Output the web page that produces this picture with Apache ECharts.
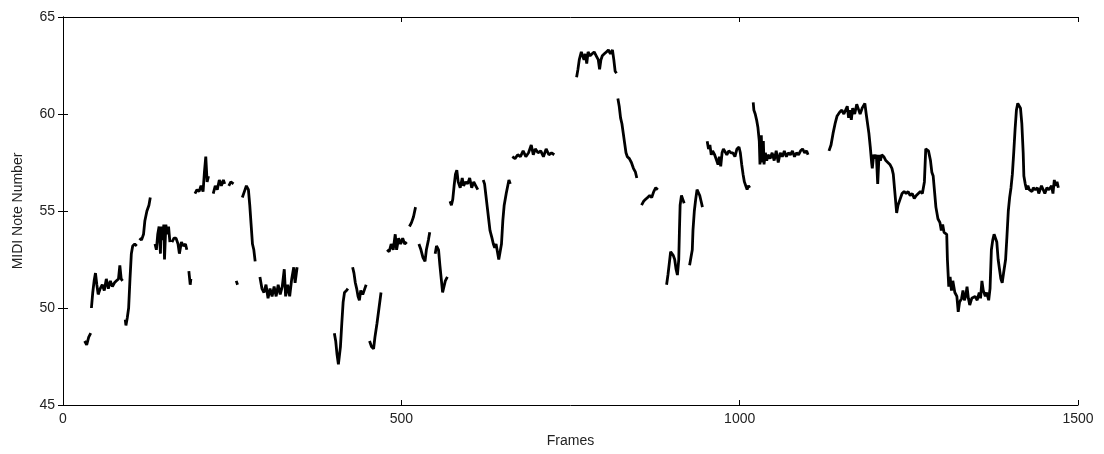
<!DOCTYPE html>
<html>
<head>
<meta charset="utf-8">
<script src="https://cdn.jsdelivr.net/npm/echarts@6/dist/echarts.min.js"></script>
<style>
html,body{margin:0;padding:0;background:#fff;}
#chart{width:1104px;height:454px;}
</style>
</head>
<body>
<div id="chart"></div>
<script>
// Axis ticks
const xTicks = [0, 500, 1000, 1500];
const yTicks = [45, 50, 55, 60, 65];
const xLabel = 'Frames';
const yLabel = 'MIDI Note Number';

// Pitch contour: frames and MIDI notes; null marks an unvoiced gap
const frames = [
  32,35,38,41, 0,
  42,44,46,48,50,52,55,58,61,64,67,70,73,76,79,82,84,86,88, 0,
  92,93,95,97,99,101,103,106,109, 0,
  113,116,119,121,124,127,129, 0,
  136,138,140,142,144,145,147,149,150,152,154,156,158, 0,
  161,164,167,170,172,175,178,181,183, 0,
  186,188,189, 0,
  195,198,201,204,207,209,211,213,215, 0,
  222,225,228,231,234,237,239, 0,
  245,248,252, 0,
  256,258, 0,
  265,268,271,274,276,278,280,282,284, 0,
  291,294,297,300,303,306,309,312,315,318,321,324,327,329,332,335,338,341,343,346, 0,
  401,403,405,407,409,410,412,414,416,419,421, 0,
  428,430,432,434,436,438,440,443,446,448, 0,
  453,456,459,461,464,467,470, 0,
  479,482,485,488,491,493,496,499,502,505,508, 0,
  512,515,518,521, 0,
  526,529,532,535,537,540,542, 0,
  550,552,555,557,559,561,563,565,568, 0,
  572,574,576,578,580,582,584,587,590,592,595,598,601,604,607,610,613, 0,
  621,623,625,627,629,631,634,636,638,640,642,644,646,648,650,652,655,657,659,661, 0,
  664,668,672,676,680,684,688,692,695,698,702,706,710,714,718,722,726, 0,
  759,761,763,766,768,770,772,774,776,779,782,785,788,791,793,795,797,800,803,806,809,812,814,816,818, 0,
  820,822,824,826,828,830,832,834,837,840,843,846,848, 0,
  855,858,861,864,867,870,873,876,879, 0,
  892,894,896,898,900,902,904,906,908,910,911,912,914,916,918, 0,
  926,928,930,931,933,935,937,939,941,943,945, 0,
  952,954,956,958,960,963,966,968,970,972,974,976,978,981,984,987,990,993,996,999,1001,1003,1005,1007,1009,1011,1013,1015, 0,
  1020,1021,1023,1025,1027,1029,1030,1032,1033,1035,1036,1038,1040,1042,1045,1048,1051,1054,1057,1060,1063,1066,1069,1072,1075,1078,1081,1084,1087,1090,1093,1096,1099,1101, 0,
  1132,1135,1138,1141,1144,1148,1151,1154,1156,1159,1161,1163,1165,1167,1170,1173,1176,1178,1181,1185,1187,1189,1191,1193,1195,
  1196,1198,1200,1202,1204,1206,1208,1210,1213,1216,1219,1222,1225,1227,1229,1231,1232,1234,1237,1240,1243,1246,1249,1252,1255,1258,1261,1264,1267,1270,
  1273,1275,1277,1279,1282,1284,1286,1288,1290,1293,1296,1298,1300,1302,1304,1306,1307,1309,1311,1313,1315,1318,1321,1323,1325,1328,1330,1332,1334,1336,
  1338,1340,1343,1345,1348,1351,1354,1356,1358,1360,1363,1365,1368,1370,1372,1374,1376,1378,1380,1382,1384,1386,1388,1390,1393,1395,1397,1399,1401,1403,
  1405,1407,1409,1411,1413,1415,1417,1419,1420,1422,1424,1426,1428,1430,1432,1434,1437,1440,1442,1444,1446,1448,1451,1454,1457,1459,1461,1463,1465,1467,1469,1471
];
const notes = [
  48.3,48.1,48.5,48.7, null,
  50.0,50.8,51.4,51.8,51.2,50.7,51.0,51.2,50.9,51.5,51.0,51.4,51.1,51.3,51.4,51.5,52.2,51.5,51.4, null,
  49.4,49.1,49.5,50.0,51.5,52.8,53.2,53.3,53.2, null,
  53.6,53.5,53.8,54.5,55.0,55.3,55.7, null,
  53.3,53.0,53.8,54.2,52.8,54.2,53.5,54.3,52.5,54.3,53.8,54.2,53.4, null,
  53.4,53.6,53.6,53.3,52.8,53.4,53.2,53.3,53.0, null,
  51.9,51.2,51.5, null,
  55.9,56.1,56.0,56.3,56.0,57.0,57.8,56.5,56.8, null,
  55.9,56.3,56.1,56.6,56.3,56.6,56.4, null,
  56.3,56.5,56.4, null,
  51.4,51.2, null,
  55.7,56.0,56.3,56.1,55.3,54.3,53.3,53.0,52.4, null,
  51.6,51.0,50.8,51.2,50.5,51.0,50.6,51.1,50.6,51.2,50.7,51.1,52.0,50.6,51.2,50.6,51.5,52.1,51.3,52.1, null,
  48.7,48.3,47.6,47.1,47.0,48.0,49.2,50.3,50.8,50.9,51.0, null,
  52.1,51.8,51.3,51.0,50.6,50.4,50.9,50.7,51.0,51.2, null,
  48.3,48.0,47.9,48.5,49.2,50.0,50.8, null,
  53.0,52.9,53.3,53.0,53.8,53.0,53.6,53.3,53.6,53.3,53.4, null,
  54.2,54.4,54.7,55.2, null,
  53.3,53.0,52.6,52.4,53.0,53.5,53.9, null,
  52.8,53.2,53.0,52.2,51.5,50.8,50.8,51.4,51.6, null,
  55.5,55.3,55.6,56.3,56.9,57.1,56.5,56.2,56.7,56.3,56.5,56.4,56.7,56.2,56.5,56.3,56.1, null,
  56.6,56.4,55.8,55.2,54.6,54.0,53.6,53.3,53.1,53.3,52.9,52.5,52.9,53.3,54.5,55.3,55.9,56.0,56.6,56.4, null,
  57.8,57.7,57.9,57.8,58.1,57.8,58.0,58.4,57.9,58.2,58.0,58.1,57.8,58.2,57.9,58.0,57.9, null,
  61.9,62.3,62.8,63.2,63.0,62.8,63.1,62.6,63.2,63.0,63.1,63.2,63.0,62.8,62.3,62.8,63.0,63.1,63.2,63.3,63.1,63.3,62.8,62.2,62.1, null,
  60.8,60.4,59.8,59.5,59.0,58.5,58.0,57.8,57.7,57.5,57.2,57.0,56.7, null,
  55.3,55.5,55.6,55.7,55.8,55.7,56.0,56.2,56.1, null,
  51.2,51.7,52.3,52.9,53.0,52.7,52.5,52.0,51.7,52.5,54.0,55.3,55.8,55.6,55.4, null,
  52.2,52.6,53.0,54.0,55.0,55.6,56.1,56.2,55.8,55.5,55.2, null,
  58.6,58.2,58.4,57.9,58.1,57.9,57.6,57.4,57.8,57.3,58.0,58.2,58.1,57.9,58.1,58.0,58.0,57.8,58.2,58.3,58.0,57.4,56.9,56.5,56.3,56.1,56.3,56.2, null,
  60.6,60.2,60.0,59.7,59.3,58.6,57.4,58.9,57.5,58.6,57.4,58.0,57.6,57.9,57.7,58.0,57.6,58.1,57.5,58.0,57.8,58.1,57.8,58.0,57.9,58.1,57.8,58.0,57.9,58.1,58.2,58.0,58.1,57.9, null,
  58.1,58.4,59.0,59.5,59.9,60.1,60.2,60.0,60.1,60.4,59.8,60.2,59.7,60.3,60.0,60.5,60.2,60.0,60.3,60.55,60.0,59.9,59.0,58.3,57.5,
  57.2,57.9,57.7,57.9,56.4,57.9,57.6,57.9,57.8,57.6,57.5,57.4,57.2,56.9,56.1,55.3,54.9,55.3,55.6,55.9,56.0,55.9,56.0,55.8,55.9,55.65,55.8,55.9,56.0,55.9,
  56.5,58.2,58.2,58.1,57.6,57.0,56.8,56.0,55.2,54.6,54.4,54.0,54.3,53.9,53.9,53.8,52.5,51.1,51.6,50.9,51.4,50.8,50.6,49.8,50.3,50.5,50.9,50.4,50.6,51.1,
  50.5,50.15,50.5,50.4,50.6,50.4,50.8,50.5,51.4,50.9,50.6,50.8,50.4,51.0,53.0,53.5,53.8,53.7,53.4,52.5,52.0,51.5,51.3,51.8,52.5,53.7,55.0,55.7,56.2,56.9,
  58.0,59.2,60.2,60.55,60.5,60.3,59.5,58.0,56.8,56.4,56.1,56.3,56.1,56.2,56.0,56.2,56.1,56.2,55.9,56.0,56.3,56.2,55.9,56.2,56.1,56.0,56.3,55.9,56.6,56.3,56.5,56.2
];

const data = frames.map((f, i) => notes[i] === null ? [null, null] : [f, notes[i]]);

const font = 'Liberation Sans, Arial, sans-serif';
const chart = echarts.init(document.getElementById('chart'), null, {renderer: 'canvas'});
const axisLine = {show: true, lineStyle: {color: '#000', width: 1}};
const tick = {show: true, inside: true, length: 5, lineStyle: {color: '#000'}};
const plain = v => String(v);
chart.setOption({
  animation: false,
  backgroundColor: '#fff',
  grid: {left: 63, right: 26, top: 17, bottom: 49, containLabel: false},
  xAxis: [{
    type: 'value', min: xTicks[0], max: xTicks[xTicks.length - 1], interval: 500,
    axisLine: axisLine, axisTick: tick, splitLine: {show: false},
    axisLabel: {color: '#222', fontSize: 14, fontFamily: font, margin: 7, formatter: plain},
    name: xLabel, nameLocation: 'middle', nameGap: 29,
    nameTextStyle: {color: '#222', fontSize: 14, fontFamily: font}
  }, {
    type: 'value', position: 'top', min: xTicks[0], max: xTicks[xTicks.length - 1], interval: 500,
    axisLine: axisLine, axisTick: tick, axisLabel: {show: false}, splitLine: {show: false}
  }],
  yAxis: [{
    type: 'value', min: yTicks[0], max: yTicks[yTicks.length - 1], interval: 5,
    axisLine: axisLine, axisTick: tick, splitLine: {show: false},
    axisLabel: {color: '#222', fontSize: 14, fontFamily: font, margin: 8, formatter: plain},
    name: yLabel, nameLocation: 'middle', nameGap: 38, nameRotate: 90,
    nameTextStyle: {color: '#222', fontSize: 14, fontFamily: font}
  }, {
    type: 'value', position: 'right', min: yTicks[0], max: yTicks[yTicks.length - 1], interval: 5,
    axisLine: axisLine, axisTick: tick, axisLabel: {show: false}, splitLine: {show: false}
  }],
  series: [{
    type: 'line', data: data, xAxisIndex: 0, yAxisIndex: 0,
    showSymbol: false, symbol: 'none', connectNulls: false,
    lineStyle: {color: '#000', width: 2.8}
  }]
});
</script>
</body>
</html>
